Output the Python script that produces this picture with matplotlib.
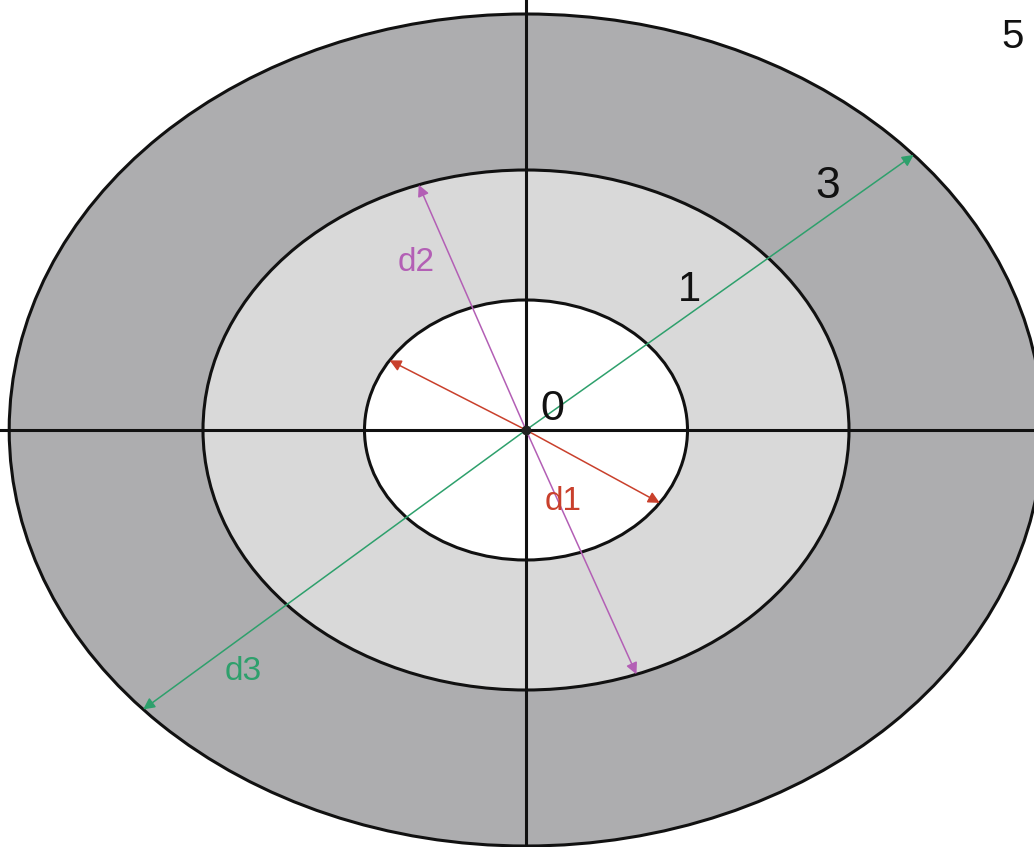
import numpy as np
import matplotlib
matplotlib.use("Agg")
import matplotlib.pyplot as plt
from matplotlib.patches import Ellipse

plt.rcParams['font.family'] = ['Liberation Sans', 'DejaVu Sans']

# Zone radii (inner to outer) and fills
radii = [3.2, 2.0, 1.0]
fills = ['#adadaf', '#d9d9d9', '#ffffff']

# Diameter arrows: (angle start, angle end, radius, colour)
arrow_names = ['d1', 'd2', 'd3']
arrow_ang_a = [147.6, 109.4, 41.4]
arrow_ang_b = [-34.1, -70.0, 222.2]
arrow_rad = [1.0, 2.0, 3.2]
arrow_cols = ['#c9402c', '#b35fb5', '#2ea06c']

# Arrow label positions
arrow_lab_x = [0.23, -0.68, -1.75]
arrow_lab_y = [-0.55, 1.29, -1.86]

# Zone number labels
zone_labels = ['0', '1', '3', '5']
zone_lab_x = [0.16, 1.015, 1.87, 3.01]
zone_lab_y = [0.16, 1.077, 1.87, 3.02]
zone_lab_size = [31, 30, 32, 29]

fig = plt.figure(figsize=(10.34, 8.47), dpi=100)
ax = fig.add_axes([0, 0, 1, 1])
ax.set_xlim(-526 / 161.5, (1034 - 526) / 161.5)
ax.set_ylim((430 - 847) / 130, 430 / 130)
ax.axis('off')

for r, c in zip(radii, fills):
    ax.add_patch(Ellipse((0, 0), 2 * r, 2 * r, facecolor=c,
                         edgecolor='#111111', lw=2.2, zorder=1))

ax.axhline(0, color='#111111', lw=2.2, zorder=2)
ax.axvline(0, color='#111111', lw=2.2, zorder=2)

for a1, a2, r, col in zip(arrow_ang_a, arrow_ang_b, arrow_rad, arrow_cols):
    for a in (a1, a2):
        p = (r * np.cos(np.radians(a)), r * np.sin(np.radians(a)))
        ax.annotate('', xy=p, xytext=(0, 0),
                    arrowprops=dict(arrowstyle='-|>', color=col, lw=1.1,
                                    mutation_scale=17, shrinkA=0, shrinkB=0),
                    zorder=3)

ax.plot([0], [0], 'o', color='#222222', ms=6, zorder=4)

for name, x, y, col in zip(arrow_names, arrow_lab_x, arrow_lab_y, arrow_cols):
    ax.text(x, y, name, color=col, fontsize=24, ha='center', va='center', zorder=5)

for lab, x, y, s in zip(zone_labels, zone_lab_x, zone_lab_y, zone_lab_size):
    ax.text(x, y, lab, color='#111111', fontsize=s, ha='center', va='center', zorder=5)

fig.savefig('out.png', dpi=100)
